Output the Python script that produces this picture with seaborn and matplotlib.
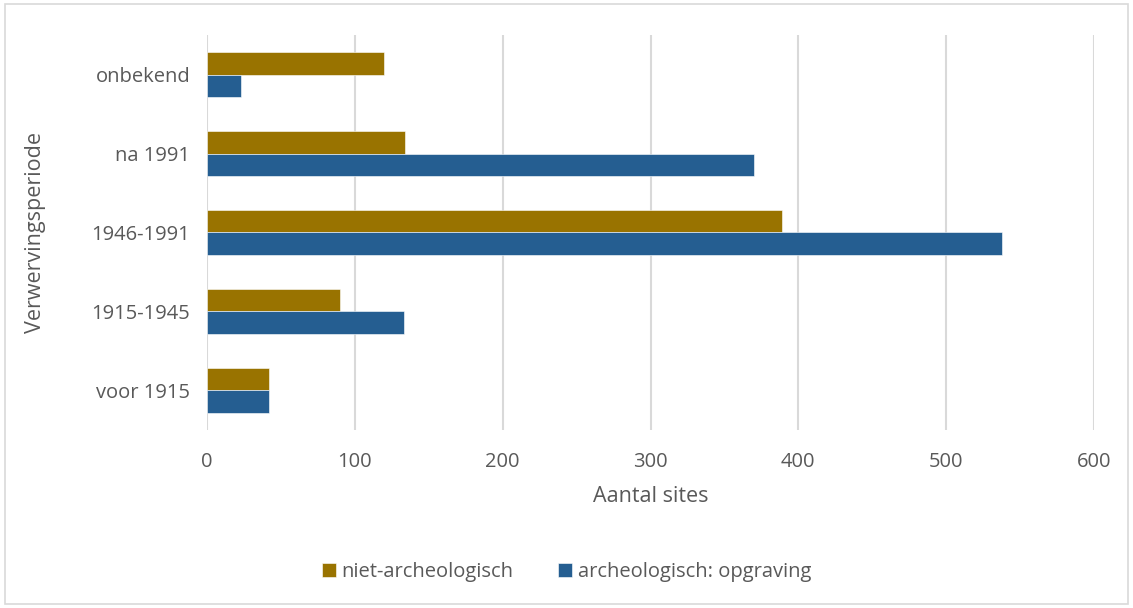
import matplotlib
matplotlib.use("Agg")
import matplotlib.pyplot as plt
import seaborn as sns
import pandas as pd
from matplotlib.patches import Rectangle

periods = ["onbekend", "na 1991", "1946-1991", "1915-1945", "voor 1915"]
series_names = ["niet-archeologisch", "archeologisch: opgraving"]
niet_archeologisch = [120, 134, 389, 90, 42]
archeologisch = [23, 370, 538, 133, 42]
x_ticks = [0, 100, 200, 300, 400, 500, 600]

df = pd.DataFrame({
    "periode": periods * 2,
    "reeks": [series_names[0]] * len(periods) + [series_names[1]] * len(periods),
    "aantal": niet_archeologisch + archeologisch,
})

sns.set_theme(style="white")
plt.rcParams["font.family"] = ["Open Sans", "DejaVu Sans"]

text_color = "#595959"
grid_color = "#d9d9d9"
palette = {series_names[0]: "#997300", series_names[1]: "#255e91"}

fig = plt.figure(figsize=(11.33, 6.08), dpi=100)
ax = fig.add_axes([0.1827, 0.2928, 0.7829, 0.6496])

sns.barplot(data=df, x="aantal", y="periode", hue="reeks", order=periods,
            hue_order=series_names, palette=palette, orient="h",
            width=0.56, saturation=1, ax=ax, legend=True,
            edgecolor="#ffffff", linewidth=0.4)

ax.set_xlim(0, 600)
ax.set_xticks(x_ticks)
ax.set_ylim(len(periods) - 0.5, -0.5)
ax.xaxis.grid(True, color=grid_color, linewidth=1.5)
ax.yaxis.grid(False)
ax.set_axisbelow(True)
for s in ax.spines.values():
    s.set_visible(False)
ax.tick_params(axis="both", length=0, labelsize=14.5, colors=text_color)
ax.tick_params(axis="y", pad=12)
ax.tick_params(axis="x", pad=16)
ax.set_xlabel("Aantal sites", fontsize=15.5, color=text_color)
ax.set_ylabel("Verwervingsperiode", fontsize=15.5, color=text_color)
ax.xaxis.set_label_coords(0.5, -0.142)
ax.yaxis.set_label_coords(-0.182, 0.5)

handles, labels = ax.get_legend_handles_labels()
ax.get_legend().remove()
fig.legend(handles, labels, loc="center", bbox_to_anchor=(0.5, 0.059),
           ncol=2, frameon=False, fontsize=14.5, labelcolor=text_color,
           handlelength=0.7, handleheight=0.7, handletextpad=0.3,
           columnspacing=2.2)

fig.patches.append(Rectangle((0.004, 0.006), 0.992, 0.988, transform=fig.transFigure,
                             fill=False, edgecolor=grid_color, linewidth=1.2))

fig.savefig("out.png", dpi=100, facecolor="white")
